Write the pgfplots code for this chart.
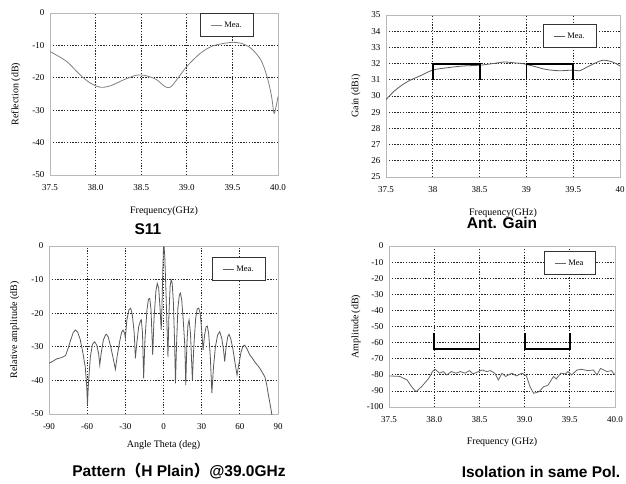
\documentclass[border=0pt]{standalone}
\usepackage{fontspec}
\setmainfont{Liberation Serif}
\newfontfamily\titlefont{Liberation Sans}
\newfontfamily\cjk{Noto Sans CJK SC}
\usepackage{pgfplots}
\pgfplotsset{compat=1.18}

\pgfplotsset{
  panel/.style={
    scale only axis, anchor=south west,
    axis line style={gray!55, line width=0.9pt},
    major tick length=0pt,
    grid=major,
    major grid style={black!85, line width=0.8pt, dash pattern=on 1.3pt off 1.5pt},
    tick label style={font=\fontsize{9}{10}\selectfont},
    label style={font=\fontsize{8.5}{10}\selectfont},
    /pgf/number format/assume math mode=true,
    xticklabel style={yshift=-6pt},
    yticklabel style={xshift=-2pt},
    every axis y label/.style={at={(axis description cs:-0.15,0.5)}, rotate=90, anchor=center},
    every axis x label/.style={at={(axis description cs:0.5,-0.22)}, anchor=center},
    legend style={font=\fontsize{8.5}{9}\selectfont, draw=gray!40!black, line width=0.9pt,
      anchor=north west, inner xsep=10pt, inner ysep=6pt},
    legend image code/.code={\draw[#1, line width=0.8pt] (0pt,0pt) -- (11pt,0pt);},
    every axis plot/.append style={line width=0.8pt},
  },
  bracket/.style={black, line width=1.8pt, forget plot},
}

\begin{document}
\begin{tikzpicture}
\useasboundingbox (0,0) rectangle (626pt,483pt);

% S11
\begin{axis}[panel, at={(50pt,308pt)}, width=228pt, height=162pt,
  xmin=37.5, xmax=40, ymin=-50, ymax=0,
  xtick={37.5,38,...,40}, ytick={-50,-40,...,0},
  xticklabel style={/pgf/number format/.cd, fixed, fixed zerofill, precision=1},
  xlabel={Frequency(GHz)}, ylabel={Reflection (dB)},
  legend style={at={(0.658,1)}}]
\addplot[gray, smooth] coordinates {
(37.5,-11.9) (37.68,-14.9) (37.83,-19.1) (37.94,-21.6) (38.05,-22.9) (38.16,-22.5)
(38.31,-20.6) (38.45,-19.2) (38.56,-19.4) (38.67,-20.6) (38.76,-22.7) (38.82,-22.9)
(38.89,-20.6) (39.0,-16.5) (39.15,-12.4) (39.29,-10.1) (39.48,-9.1) (39.59,-9.3)
(39.7,-10.8) (39.81,-14.4) (39.88,-19.6) (39.93,-25.8) (39.955,-30.9) (39.975,-29.4) (40.0,-25.8)};
\addlegendentry{Mea.}
\end{axis}

% Gain
\begin{axis}[panel, at={(386pt,306pt)}, width=234pt, height=162pt,
  xmin=37.5, xmax=40, ymin=25, ymax=35,
  xtick={37.5,38,...,40}, ytick={25,26,...,35},
  xlabel={Frequency(GHz)}, ylabel={Gain (dBi)},
  every axis y label/.style={at={(axis description cs:-0.128,0.5)}, rotate=90, anchor=center},
  legend style={at={(0.671,0.944)}}]
\addplot[black!65, smooth] coordinates {
(37.5,29.78) (37.58,30.26) (37.67,30.67) (37.76,30.98) (37.86,31.23) (38.0,31.6)
(38.15,31.74) (38.32,31.85) (38.5,31.9) (38.64,32.0) (38.77,32.1) (38.86,32.05)
(38.96,32.0) (39.07,31.85) (39.21,31.64) (39.35,31.56) (39.5,31.6) (39.57,31.56)
(39.67,31.85) (39.81,32.2) (39.92,32.1) (40.0,31.85)};
\addlegendentry{Mea.}
\addplot[bracket] coordinates {(38,31) (38,32) (38.5,32) (38.5,31)};
\addplot[bracket] coordinates {(39,31) (39,32) (39.5,32) (39.5,31)};
\end{axis}

% Pattern
\begin{axis}[panel, at={(49pt,69pt)}, width=229pt, height=168pt,
  xmin=-90, xmax=90, ymin=-50, ymax=0,
  xtick={-90,-60,...,90}, ytick={-50,-40,...,0},
  xlabel={Angle Theta (deg)}, ylabel={Relative amplitude (dB)},
  every axis x label/.style={at={(axis description cs:0.5,-0.185)}, anchor=center},
  legend style={at={(0.712,0.934)}}]
\addplot[black!65] coordinates {
(-90,-34.9) (-87,-34.3) (-84,-33.6) (-80,-33.2) (-77,-32.6) (-75,-30.5) (-73,-28)
(-71,-25.8) (-69.3,-25.0) (-67.5,-25.6) (-65.5,-27.8) (-63.5,-31.5) (-61.5,-36)
(-60.3,-42) (-59.8,-47.3) (-59,-41) (-57.5,-33) (-55.8,-29.2) (-54.1,-28.5)
(-52.5,-29.5) (-51,-32) (-50.1,-35.4) (-49,-32) (-47.3,-28) (-45.5,-26.4)
(-44.9,-26.3) (-43.5,-27) (-41.5,-30) (-39.5,-33.5) (-37.8,-36.7) (-36.5,-33)
(-34.5,-28.5) (-33,-25.8) (-31.8,-25.0) (-30.5,-26) (-30,-27.5) (-28.8,-22)
(-27.2,-19) (-25.8,-18.5) (-24.5,-20.5) (-23,-26) (-22.1,-33.4) (-21,-29)
(-19.5,-24) (-18,-22.2) (-17.4,-22) (-16.5,-26) (-15.6,-39.4) (-14.6,-28)
(-13,-19) (-11.8,-15.8) (-10.8,-15.6) (-9.8,-19) (-8.5,-32.4) (-7.5,-22)
(-6,-13.5) (-4.9,-11.1) (-3.8,-12.5) (-2.8,-18) (-1.8,-25) (-1.2,-18)
(-0.6,-8) (0,-0.5) (0.4,0) (1.0,-3) (1.8,-12) (2.6,-22) (3.5,-33) (4.3,-20)
(5.2,-12) (6,-10.1) (6.8,-11) (7.8,-17) (8.8,-30) (9.4,-40.9) (10.2,-30)
(11.3,-18.5) (12.5,-14.5) (13.3,-14) (14.3,-16) (15.5,-22) (16.8,-30)
(17.5,-41.4) (18.3,-30) (19.2,-23.5) (20.1,-22) (21.2,-26) (22.7,-39.9)
(23.8,-30) (25.3,-21.5) (26.5,-18.7) (27.7,-18.5) (28.8,-20) (30,-25)
(31.1,-31) (32.3,-26.5) (33.5,-24) (34.4,-23.8) (35.5,-26) (36.8,-33)
(38,-43.8) (39.3,-36) (40.8,-30) (42.5,-26.5) (44.2,-25.5) (45.8,-27.5)
(47.2,-31) (48.1,-34.4) (49.2,-30) (50.5,-27) (51.5,-26.3) (52.8,-27.5)
(54.5,-30.5) (56.3,-35) (57.8,-38.4) (59.3,-35) (61,-31.5) (62.5,-29.8)
(63.8,-29.5) (65.5,-30.5) (67.8,-32.4) (70,-33.5) (72.5,-34.9) (74,-35.5)
(75.7,-36.4) (77.5,-37.5) (79.6,-38.9) (81,-41) (82.2,-43.8) (83.5,-46.5)
(84.8,-49.3) (85.5,-51)};
\addlegendentry{Mea.}
\end{axis}

% Isolation
\begin{axis}[panel, at={(389pt,76pt)}, width=226pt, height=161pt,
  xmin=37.5, xmax=40, ymin=-100, ymax=0,
  xtick={37.5,38,...,40}, ytick={-100,-90,...,0},
  xticklabel style={/pgf/number format/.cd, fixed, fixed zerofill, precision=1},
  xlabel={Frequency (GHz)}, ylabel={Amplitude (dB)},
  every axis y label/.style={at={(axis description cs:-0.146,0.5)}, rotate=90, anchor=center},
  legend style={at={(0.686,0.969)}}]
\addplot[black!60] coordinates {
(37.5,-80.7) (37.62,-81) (37.70,-83.2) (37.75,-87.4) (37.80,-90.5) (37.86,-87.4)
(37.94,-82.2) (37.98,-78) (38.01,-76.6) (38.06,-79) (38.10,-78) (38.14,-80.1)
(38.19,-78) (38.24,-79) (38.29,-78) (38.34,-79) (38.39,-77.4) (38.43,-79.4)
(38.49,-78) (38.53,-77) (38.58,-78) (38.62,-77.4) (38.67,-79) (38.71,-83.2)
(38.75,-79) (38.79,-81) (38.86,-79) (38.91,-80.7) (38.97,-79) (39.02,-80.7)
(39.06,-87.4) (39.10,-91.5) (39.16,-90.5) (39.21,-87.4) (39.26,-86.4) (39.32,-81)
(39.35,-82.6) (39.40,-79) (39.45,-79.4) (39.48,-78) (39.52,-80.1) (39.58,-77)
(39.63,-76.6) (39.70,-77.4) (39.76,-77) (39.80,-80.1) (39.84,-76) (39.91,-78)
(39.96,-77.4) (40.0,-80.1)};
\addlegendentry{Mea}
\addplot[bracket] coordinates {(38,-54) (38,-64) (38.5,-64) (38.5,-54)};
\addplot[bracket] coordinates {(39,-54) (39,-64) (39.5,-64) (39.5,-54)};
\end{axis}

\node[font=\titlefont\bfseries\fontsize{15.5}{17}\selectfont] at (148pt,254pt) {S11};
\node[font=\titlefont\bfseries\fontsize{15.5}{17}\selectfont] at (502pt,260pt) {Ant. Gain};
\node[font=\titlefont\bfseries\fontsize{15.5}{17}\selectfont] at (179pt,12pt)
  {Pattern{\cjk （}H Plain{\cjk ）}@39.0GHz};
\node[font=\titlefont\bfseries\fontsize{15.5}{17}\selectfont] at (541pt,11pt) {Isolation in same Pol.};
\end{tikzpicture}
\end{document}
